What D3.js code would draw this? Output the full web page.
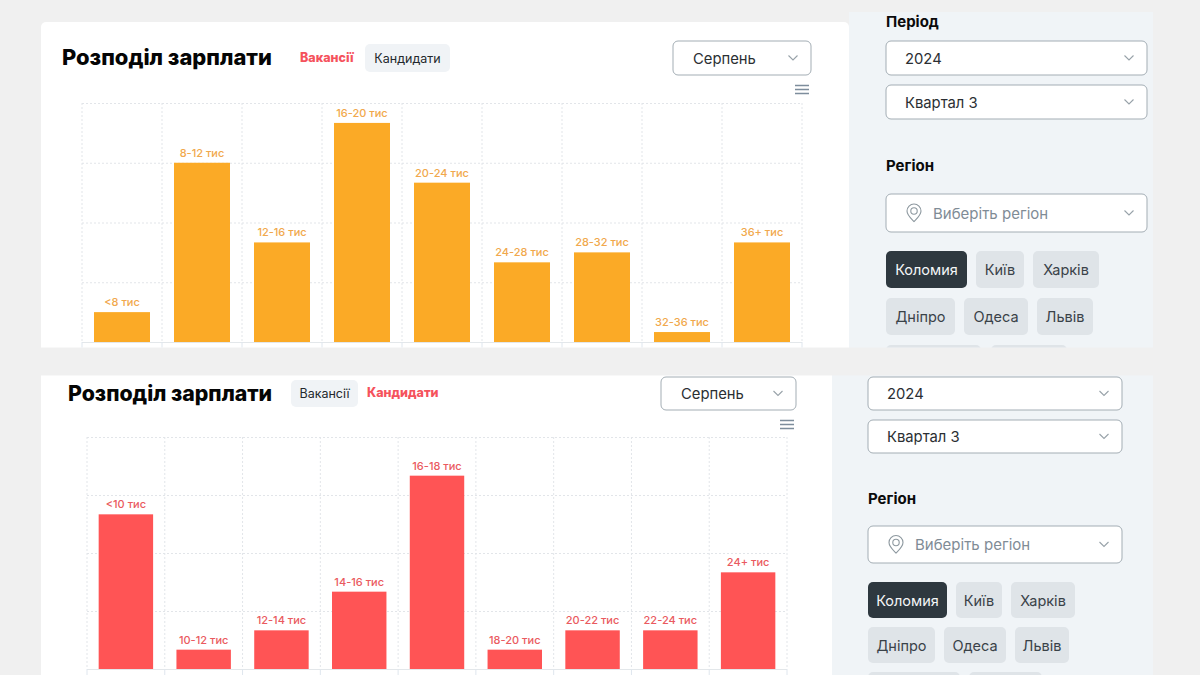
<!DOCTYPE html>
<html>
<head>
<meta charset="utf-8">
<script src="https://cdn.jsdelivr.net/npm/d3@7"></script>
<style>
html, body { margin: 0; padding: 0; background: #f0f0f0; }
svg { display: block; font-family: Inter, "Noto Sans", sans-serif; }
</style>
</head>
<body>
<svg id="chart" width="1200" height="675"></svg>
<script>
var vacancyCategories = ["<8 тис", "8-12 тис", "12-16 тис", "16-20 тис", "20-24 тис", "24-28 тис", "28-32 тис", "32-36 тис", "36+ тис"];
var vacancyValues = [3, 18, 10, 22, 16, 8, 9, 1, 10];
var candidateCategories = ["<10 тис", "10-12 тис", "12-14 тис", "14-16 тис", "16-18 тис", "18-20 тис", "20-22 тис", "22-24 тис", "24+ тис"];
var candidateValues = [8, 1, 2, 4, 10, 1, 2, 2, 5];
var vacancyTicks = [0, 6, 12, 18, 24];
var candidateTicks = [0, 3, 6, 9, 12];
var regionRowOne = ["Коломия", "Київ", "Харків"];
var regionRowTwo = ["Дніпро", "Одеса", "Львів"];

var svg = d3.select("#chart");
var defs = svg.append("defs");

/**
 *   Layout of the two stacked screenshots of the same dashboard.
 */
var screens = [
	{
		id: "vacancies", clip: [0, 12, 1200, 335.5],
		card: [41, 22, 808, 340], side: [849, 12, 304, 340],
		title: {x: 62, y: 65, size: 21.9},
		tabs: {active: "Вакансії", activeX: 300, activeY: 62, chip: [365, 44, 85, 28], chipText: "Кандидати"},
		month: [673, 41, 138, 34], menu: [795, 85],
		plot: {left: 82, right: 802, top: 103, bottom: 342, tail: 8},
		categories: vacancyCategories, values: vacancyValues, ticks: vacancyTicks,
		color: "#fbaa26", labelColor: "#f1a84c",
		sideX: 886, sideW: 261,
		periodLabelY: 26.5, yearBox: 41, yearH: 34, quarterBox: 85,
		regionLabelY: 171, regionBox: 194, regionH: 38,
		rowOne: [[886, 81], [976, 48], [1033, 66]], rowOneY: 251,
		rowTwo: [[886, 69], [964, 64], [1037, 56]], rowTwoY: 298,
		rowThree: [[886, 95], [991, 76]], rowThreeY: 345, chipH: 37
	},
	{
		id: "candidates", clip: [0, 375.5, 1200, 299.5],
		card: [41, 340, 791, 340], side: [832, 340, 321, 340],
		title: {x: 68, y: 401, size: 21.3},
		tabs: {active: "Кандидати", activeX: 367, activeY: 397, chip: [291, 380, 67, 27], chipText: "Вакансії"},
		month: [661, 377, 135, 33], menu: [780, 420],
		plot: {left: 87, right: 787, top: 437, bottom: 669, tail: 8},
		categories: candidateCategories, values: candidateValues, ticks: candidateTicks,
		color: "#ff5455", labelColor: "#ea5a60",
		sideX: 868, sideW: 254,
		periodLabelY: null, yearBox: 377, yearH: 33, quarterBox: 420,
		regionLabelY: 504, regionBox: 526, regionH: 37,
		rowOne: [[868, 79], [956, 46], [1011, 64]], rowOneY: 582,
		rowTwo: [[868, 67], [944, 62], [1015, 54]], rowTwoY: 627,
		rowThree: [[868, 92], [969, 73]], rowThreeY: 672, chipH: 36
	}
];

function box(g, r, fill, radius, stroke) {
	return g.append("rect")
		.attr("x", r[0]).attr("y", r[1]).attr("width", r[2]).attr("height", r[3])
		.attr("rx", radius || 0)
		.attr("fill", fill)
		.attr("stroke", stroke || "none");
}

function label(g, x, y, text, size, color, weight, anchor) {
	return g.append("text")
		.attr("x", x).attr("y", y)
		.attr("font-size", size)
		.attr("font-weight", weight || 400)
		.attr("fill", color)
		.attr("text-anchor", anchor || "start")
		.text(text);
}

// select box with a small chevron on the right
function dropdown(g, r, text, textX) {
	box(g, r, "#fff", 5, "#a3adb4").attr("stroke-width", 1);
	label(g, textX, r[1] + r[3] / 2 + 5.5, text, 14.8, "#2b2f33");
	var cx = r[0] + r[2] - 18, cy = r[1] + r[3] / 2;
	g.append("path")
		.attr("d", "M" + (cx - 4.5) + "," + (cy - 2.5) + "L" + cx + "," + (cy + 2) + "L" + (cx + 4.5) + "," + (cy - 2.5))
		.attr("fill", "none").attr("stroke", "#98a2a9").attr("stroke-width", 1.1);
}

function drawPlot(g, s) {
	var p = s.plot;
	var x = d3.scaleBand().domain(s.categories).range([p.left, p.right]).paddingInner(0.3).paddingOuter(0.15);
	var y = d3.scaleLinear().domain([0, s.ticks[s.ticks.length - 1]]).range([p.bottom, p.top]);
	var bounds = d3.range(s.categories.length + 1).map(function(i) { return p.left + x.step() * i; });

	var grid = g.append("g").attr("transform", "translate(" + p.left + ",0)")
		.call(d3.axisLeft(y).tickValues(s.ticks).tickSize(p.left - p.right).tickFormat(""));
	grid.select(".domain").remove();
	grid.selectAll("line").attr("stroke", "#e2e5e9").attr("stroke-dasharray", "2,2");

	g.append("g").selectAll("line").data(bounds).join("line")
		.attr("x1", function(d) { return d; }).attr("x2", function(d) { return d; })
		.attr("y1", p.top).attr("y2", p.bottom)
		.attr("stroke", "#e2e5e9").attr("stroke-dasharray", "2,2");
	// solid axis line and ticks under the plot
	g.append("line").attr("x1", p.left).attr("x2", p.right).attr("y1", p.bottom + 0.5).attr("y2", p.bottom + 0.5)
		.attr("stroke", "#e3e7ea");
	g.append("g").selectAll("line").data(bounds).join("line")
		.attr("x1", function(d) { return d; }).attr("x2", function(d) { return d; })
		.attr("y1", p.bottom).attr("y2", p.bottom + p.tail)
		.attr("stroke", "#dfe6ee");

	var rows = d3.zip(s.categories, s.values);
	g.append("g").selectAll("rect").data(rows).join("rect")
		.attr("x", function(d) { return x(d[0]); })
		.attr("width", x.bandwidth())
		.attr("y", function(d) { return y(d[1]); })
		.attr("height", function(d) { return y(0) - y(d[1]); })
		.attr("fill", s.color);
	g.append("g").selectAll("text").data(rows).join("text")
		.attr("x", function(d) { return x(d[0]) + x.bandwidth() / 2; })
		.attr("y", function(d) { return y(d[1]) - 6; })
		.attr("text-anchor", "middle")
		.attr("font-size", 11)
		.attr("font-weight", 500)
		.attr("fill", s.labelColor)
		.text(function(d) { return d[0]; });
}

function drawChips(g, s, names, places, top) {
	places.forEach(function(r, i) {
		var selected = names[i] === "Коломия";
		box(g, [r[0], top, r[1], s.chipH], selected ? "#2e383f" : "#dfe4e8", 5);
		label(g, r[0] + r[1] / 2, top + s.chipH / 2 + 5.5, names[i], 14.5, selected ? "#f4f6f7" : "#3a4248", 400, "middle");
	});
}

function drawSidebar(g, s) {
	var w = s.sideW, left = s.sideX;
	if (s.periodLabelY !== null) { label(g, left, s.periodLabelY, "Період", 15, "#0b0b0b", 700); }
	dropdown(g, [left, s.yearBox, w, s.yearH], "2024", left + 19);
	dropdown(g, [left, s.quarterBox, w, s.yearH], "Квартал 3", left + 19);
	label(g, left, s.regionLabelY, "Регіон", 15, "#0b0b0b", 700);
	dropdown(g, [left, s.regionBox, w, s.regionH], "", left + 19);
	label(g, left + 47, s.regionBox + s.regionH / 2 + 5.5, "Виберіть регіон", 15, "#7f8c96");

	// map pin inside the region select
	var px = left + 28, py = s.regionBox + s.regionH / 2 - 1;
	g.append("path")
		.attr("d", "M" + px + "," + (py + 9.5) + "C" + (px - 4) + "," + (py + 5.5) + " " + (px - 7) + "," + (py + 3) + " " + (px - 7) + "," + (py - 1) +
			"A7,7 0 1 1 " + (px + 7) + "," + (py - 1) + "C" + (px + 7) + "," + (py + 3) + " " + (px + 4) + "," + (py + 5.5) + " " + px + "," + (py + 9.5) + "Z")
		.attr("fill", "none").attr("stroke", "#8d989f").attr("stroke-width", 1.1);
	g.append("circle").attr("cx", px).attr("cy", py - 1).attr("r", 3.2)
		.attr("fill", "none").attr("stroke", "#8d989f").attr("stroke-width", 1.1);

	drawChips(g, s, regionRowOne, s.rowOne, s.rowOneY);
	drawChips(g, s, regionRowTwo, s.rowTwo, s.rowTwoY);
	s.rowThree.forEach(function(r) { box(g, [r[0], s.rowThreeY, r[1], s.chipH], "#dfe4e8", 5); });
}

screens.forEach(function(s) {
	defs.append("clipPath").attr("id", "clip-" + s.id).append("rect")
		.attr("x", s.clip[0]).attr("y", s.clip[1]).attr("width", s.clip[2]).attr("height", s.clip[3]);
	var g = svg.append("g").attr("clip-path", "url(#clip-" + s.id + ")");

	box(g, s.side, "#f0f4f7");
	box(g, s.card, "#fff", 5);
	label(g, s.title.x, s.title.y, "Розподіл зарплати", s.title.size, "#050505", 800);
	label(g, s.tabs.activeX, s.tabs.activeY, s.tabs.active, 12.5, "#f5525c", 800);
	box(g, s.tabs.chip, "#f0f3f6", 5);
	label(g, s.tabs.chip[0] + s.tabs.chip[2] / 2, s.tabs.chip[1] + s.tabs.chip[3] / 2 + 4.5, s.tabs.chipText, 12.5, "#23282c", 400, "middle");
	dropdown(g, s.month, "Серпень", s.month[0] + 20);

	// chart export menu icon
	g.append("g").selectAll("line").data([0.5, 4.5, 8.5]).join("line")
		.attr("x1", s.menu[0]).attr("x2", s.menu[0] + 14)
		.attr("y1", function(d) { return s.menu[1] + d; })
		.attr("y2", function(d) { return s.menu[1] + d; })
		.attr("stroke", "#7d8d9c").attr("stroke-width", 1.5);

	drawPlot(g, s);
	drawSidebar(g, s);
});
</script>
</body>
</html>
